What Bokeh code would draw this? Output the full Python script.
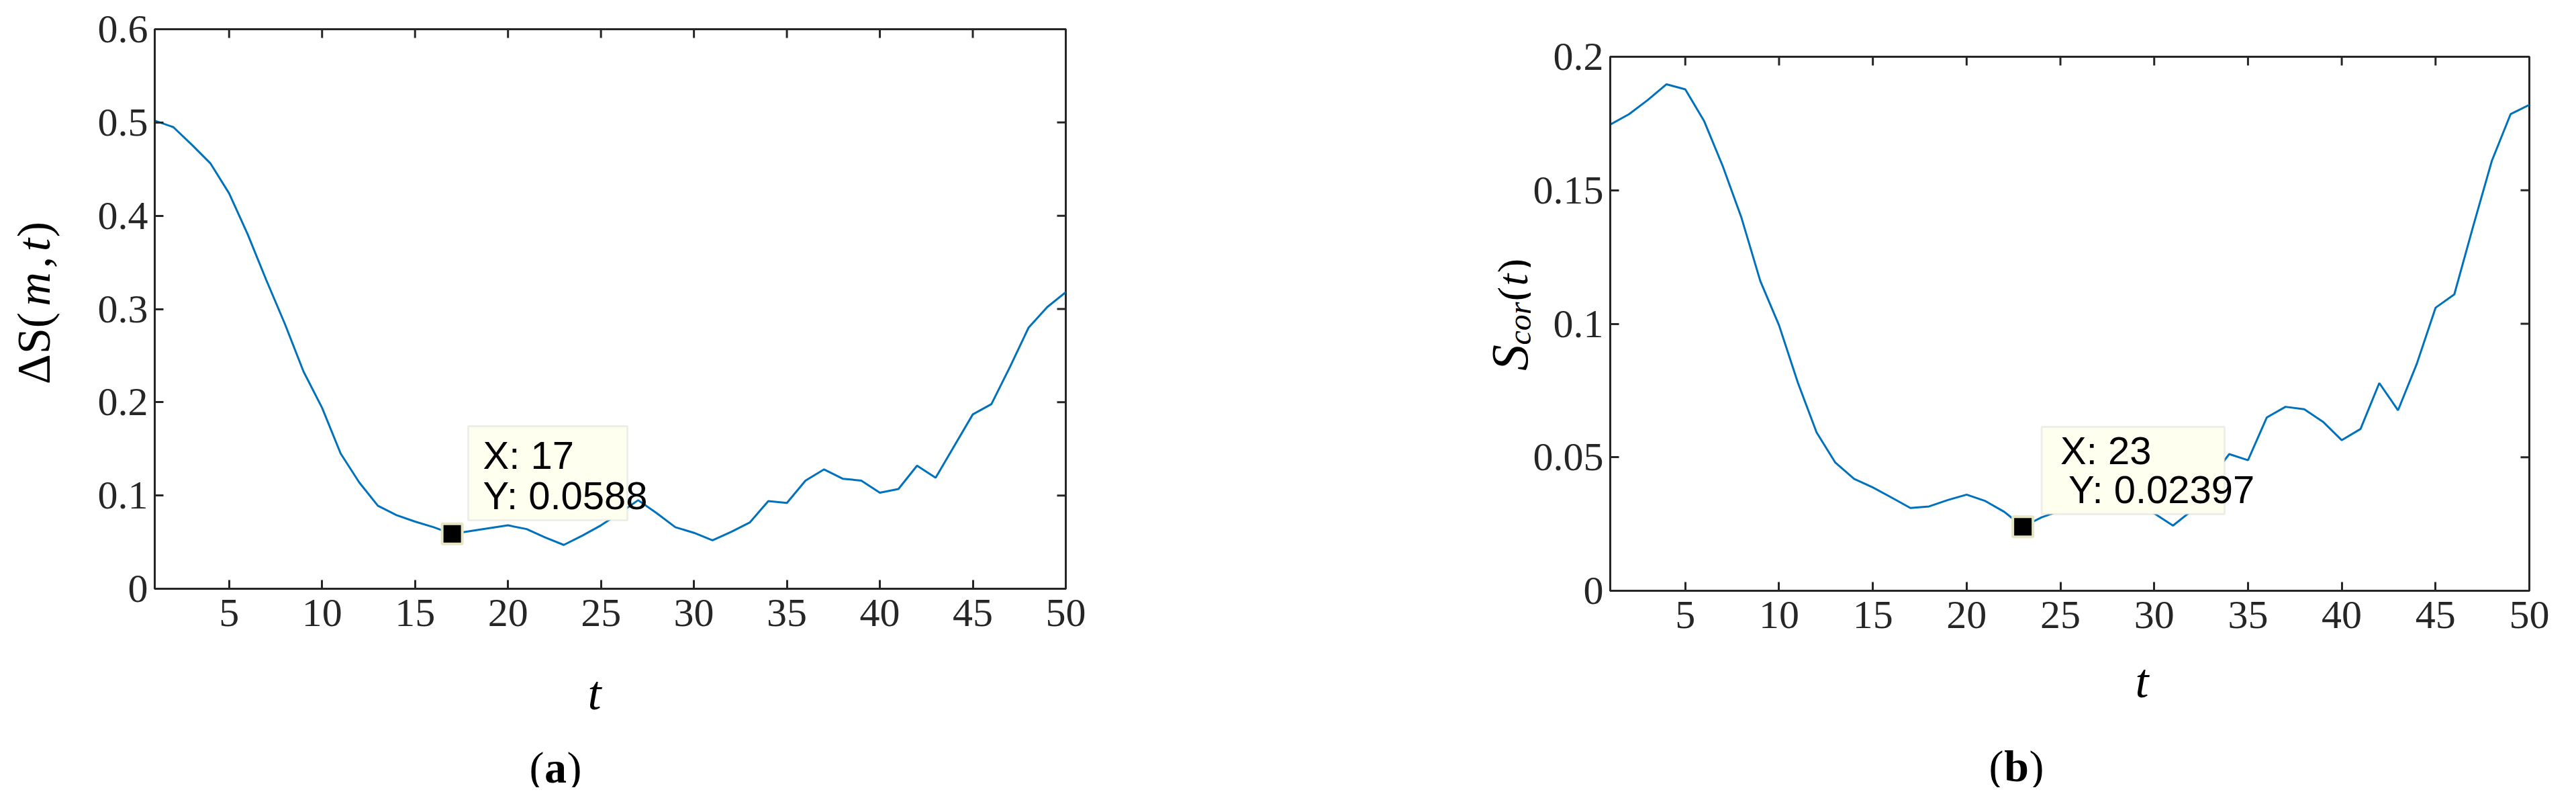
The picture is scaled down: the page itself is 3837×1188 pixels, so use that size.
import math
from bokeh.plotting import figure
from bokeh.models import FixedTicker, Label, BoxAnnotation, Range1d, Spacer
from bokeh.layouts import row, column
from bokeh.embed import file_html
from bokeh.resources import INLINE

# ---------------- data ----------------
t_values = list(range(1, 51))

delta_s = [0.502, 0.495, 0.476, 0.456, 0.424, 0.380, 0.331, 0.284, 0.233, 0.194,
           0.145, 0.114, 0.089, 0.079, 0.072, 0.066, 0.0588, 0.062, 0.065, 0.068,
           0.064, 0.055, 0.047, 0.057, 0.068, 0.081, 0.095, 0.081, 0.066, 0.060,
           0.052, 0.061, 0.071, 0.094, 0.092, 0.116, 0.128, 0.118, 0.116, 0.103,
           0.107, 0.132, 0.119, 0.153, 0.187, 0.198, 0.238, 0.280, 0.302, 0.318]

s_cor = [0.1746, 0.1785, 0.1838, 0.1897, 0.1878, 0.1760, 0.1590, 0.1396, 0.1160, 0.0994,
         0.0780, 0.0593, 0.0480, 0.0419, 0.0387, 0.0349, 0.0310, 0.0316, 0.0340, 0.0360,
         0.0336, 0.0296, 0.02397, 0.0275, 0.0300, 0.0320, 0.0335, 0.0330, 0.0310, 0.0290,
         0.0244, 0.0300, 0.0420, 0.0512, 0.0489, 0.0649, 0.0689, 0.0680, 0.0633, 0.0564,
         0.0606, 0.0778, 0.0676, 0.0850, 0.1060, 0.1110, 0.1364, 0.1610, 0.1785, 0.1820]

x_range = (1, 50)
x_ticks = [5, 10, 15, 20, 25, 30, 35, 40, 45, 50]
y_range_a = (0, 0.6)
y_ticks_a = [0, 0.1, 0.2, 0.3, 0.4, 0.5, 0.6]
y_tick_labels_a = ["0", "0.1", "0.2", "0.3", "0.4", "0.5", "0.6"]
y_range_b = (0, 0.2)
y_ticks_b = [0, 0.05, 0.1, 0.15, 0.2]
y_tick_labels_b = ["0", "0.05", "0.1", "0.15", "0.2"]

tip_index_a = 16   # t = 17
tip_index_b = 22   # t = 23

# ---------------- styles / layout (page pixels) ----------------
AXIS_COLOR = "#262626"
LINE_COLOR = "#0072BD"
SERIF = "Liberation Serif"
SANS = "Liberation Sans"
TIP_FILL = "#FFFFF0"
TIP_BORDER = "#C8C8C8"
HALF = math.pi / 2

PAGE_L, PAGE_T = 8, 8    # page margin
SPLIT_Y = 978            # page y where the plot row ends and the caption strip starts
PAGE_B = 1180
PAGE_R = 3829
COLS = [8, 120, 1900, 2288, 3829]   # yl_a | plot a | yl_b | plot b
FRAME_A = dict(left=238, right=1595, top=51, bottom=884)
FRAME_B = dict(left=2403, right=3775, top=92, bottom=887)
B_SHIFT = FRAME_B["top"] - FRAME_A["top"]      # spacer above plot (b)


def overrides(vals, labels):
    d = {}
    for v, l in zip(vals, labels):
        d[v] = l
        d[str(v)] = l
    return d


class Mapper:
    """page pixel -> data coordinate, for placing annotations"""

    def __init__(self, frame, xr, yr):
        self.f, self.xr, self.yr = frame, xr, yr

    def x(self, px):
        f = self.f
        return self.xr[0] + (px - f["left"]) / (f["right"] - f["left"]) * (self.xr[1] - self.xr[0])

    def y(self, py):
        f = self.f
        return self.yr[0] + (f["bottom"] - py) / (f["bottom"] - f["top"]) * (self.yr[1] - self.yr[0])


def style_axis(ax, ticker, ov=None, standoff=10):
    ax.ticker = ticker
    ax.axis_line_color = AXIS_COLOR
    ax.axis_line_width = 3
    ax.major_tick_line_color = AXIS_COLOR
    ax.major_tick_line_width = 3
    ax.major_tick_in = 13
    ax.major_tick_out = 0
    ax.minor_tick_line_color = None
    ax.major_label_text_font = SERIF
    ax.major_label_text_font_size = "60px"
    ax.major_label_text_color = AXIS_COLOR
    ax.major_label_standoff = standoff
    if ov:
        ax.major_label_overrides = ov


def make_fig(x0, x1, y0, y1, frame, yr, yticks, ylabels):
    p = figure(width=x1 - x0, height=y1 - y0, title=None,
               x_range=Range1d(*x_range), y_range=Range1d(*yr),
               output_backend="svg", toolbar_location=None,
               min_border_left=frame["left"] - x0,
               min_border_right=x1 - frame["right"],
               min_border_top=frame["top"] - y0,
               min_border_bottom=y1 - frame["bottom"])
    p.outline_line_color = AXIS_COLOR
    p.outline_line_width = 3
    p.background_fill_color = "white"
    p.border_fill_color = "white"
    p.xgrid.visible = False
    p.ygrid.visible = False
    style_axis(p.xaxis[0], FixedTicker(ticks=x_ticks), standoff=16)
    style_axis(p.yaxis[0], FixedTicker(ticks=yticks), ov=overrides(yticks, ylabels), standoff=10)
    # mirrored inward ticks on the top and right edges
    p.ray(x=x_ticks, y=[yr[1]] * len(x_ticks), length=13, length_units="screen",
          angle=-HALF, line_color=AXIS_COLOR, line_width=3)
    p.ray(x=[x_range[1]] * len(yticks), y=yticks, length=13, length_units="screen",
          angle=math.pi, line_color=AXIS_COLOR, line_width=3)
    return p


def text_panel(x0, x1, y0, y1, fy0, fy1):
    """blank figure whose data coordinates equal page pixels (y downward);
    its frame spans page rows fy0..fy1"""
    p = figure(width=x1 - x0, height=y1 - y0, title=None,
               x_range=Range1d(x0, x1), y_range=Range1d(fy1, fy0),
               x_axis_type=None, y_axis_type=None,
               output_backend="svg", toolbar_location=None,
               min_border_left=0, min_border_right=0,
               min_border_top=fy0 - y0, min_border_bottom=y1 - fy1)
    p.outline_line_color = None
    p.xgrid.visible = False
    p.ygrid.visible = False
    p.background_fill_color = "white"
    p.border_fill_color = "white"
    return p


def lab(p, text, x, y, size, style="normal", align="center", baseline="middle",
        angle=0.0, font=SERIF):
    p.add_layout(Label(x=x, y=y, text=text,
                       text_font=font, text_font_size=f"{size}px", text_font_style=style,
                       text_color="black", text_align=align, text_baseline=baseline,
                       angle=angle, angle_units="rad"))


def datatip(p, m, xv, yv, box, tx, ty):
    p.add_layout(BoxAnnotation(left=m.x(box[0]), right=m.x(box[1]),
                               top=m.y(box[2]), bottom=m.y(box[3]),
                               fill_color=TIP_FILL, fill_alpha=1.0,
                               line_color=TIP_BORDER, line_width=3, level="overlay"))
    p.scatter(x=[xv], y=[yv], marker="square", size=30, fill_color="black",
              line_color="#E6E6C4", line_width=4, level="overlay")
    p.add_layout(Label(x=m.x(tx[0]), y=m.y(ty[0]), text=f"X: {xv}", text_font=SANS,
                       text_font_size="58px", text_color="black",
                       text_baseline="middle", level="overlay"))
    p.add_layout(Label(x=m.x(tx[1]), y=m.y(ty[1]), text=f"Y: {yv}", text_font=SANS,
                       text_font_size="58px", text_color="black",
                       text_baseline="middle", level="overlay"))


# ---------------- plot (a) ----------------
ma = Mapper(FRAME_A, x_range, y_range_a)
p1 = make_fig(COLS[1], COLS[2], PAGE_T, SPLIT_Y, FRAME_A, y_range_a, y_ticks_a, y_tick_labels_a)
p1.line(t_values, delta_s, line_color=LINE_COLOR, line_width=3)
datatip(p1, ma, t_values[tip_index_a], delta_s[tip_index_a],
        (705, 942, 642, 782), (727, 727), (685, 745))

# ---------------- plot (b) ----------------
mb = Mapper(FRAME_B, x_range, y_range_b)
p2 = make_fig(COLS[3], COLS[4], PAGE_T + B_SHIFT, SPLIT_Y, FRAME_B, y_range_b,
              y_ticks_b, y_tick_labels_b)
p2.line(t_values, s_cor, line_color=LINE_COLOR, line_width=3)
datatip(p2, mb, t_values[tip_index_b], s_cor[tip_index_b],
        (3047, 3320, 643, 773), (3075, 3087), (678, 736))

# ---------------- y-axis titles (centre of each piece) ----------------
yl_a = text_panel(COLS[0], COLS[1], PAGE_T, SPLIT_Y, FRAME_A["top"], FRAME_A["bottom"])
lab(yl_a, "ΔS(", 58, 526, 70, angle=HALF)
lab(yl_a, "m", 58, 438, 70, style="italic", angle=HALF)
lab(yl_a, ",", 58, 398, 70, angle=HALF)
lab(yl_a, "t", 58, 372, 70, style="italic", angle=HALF)
lab(yl_a, ")", 58, 349, 70, angle=HALF)

yl_b = text_panel(COLS[2], COLS[3], PAGE_T, SPLIT_Y, FRAME_A["top"], FRAME_A["bottom"])
lab(yl_b, "S", 2256, 540, 78, style="italic", angle=HALF)
lab(yl_b, "cor", 2271, 489, 48, style="italic", angle=HALF)
lab(yl_b, "(", 2261, 445, 64, angle=HALF)
lab(yl_b, "t", 2261, 424, 64, style="italic", angle=HALF)
lab(yl_b, ")", 2261, 403, 64, angle=HALF)

# ---------------- x-axis titles and captions ----------------
cap = text_panel(PAGE_L, PAGE_R, SPLIT_Y, PAGE_B, SPLIT_Y, PAGE_B)
lab(cap, "t", 893, 1039, 72, style="italic", baseline="alphabetic")
lab(cap, "t", 3198, 1021, 72, style="italic", baseline="alphabetic")
lab(cap, "(", 818, 1150, 66, align="right", baseline="alphabetic")
lab(cap, "a", 835, 1150, 66, style="bold", baseline="alphabetic")
lab(cap, ")", 852, 1150, 66, align="left", baseline="alphabetic")
lab(cap, "(", 2992, 1148, 66, align="right", baseline="alphabetic")
lab(cap, "b", 3011, 1148, 66, style="bold", baseline="alphabetic")
lab(cap, ")", 3030, 1148, 66, align="left", baseline="alphabetic")

col_b = column(Spacer(width=COLS[4] - COLS[3], height=B_SHIFT), p2)
layout = column(row(yl_a, p1, yl_b, col_b), cap)
open("out.html", "w").write(file_html(layout, INLINE))
